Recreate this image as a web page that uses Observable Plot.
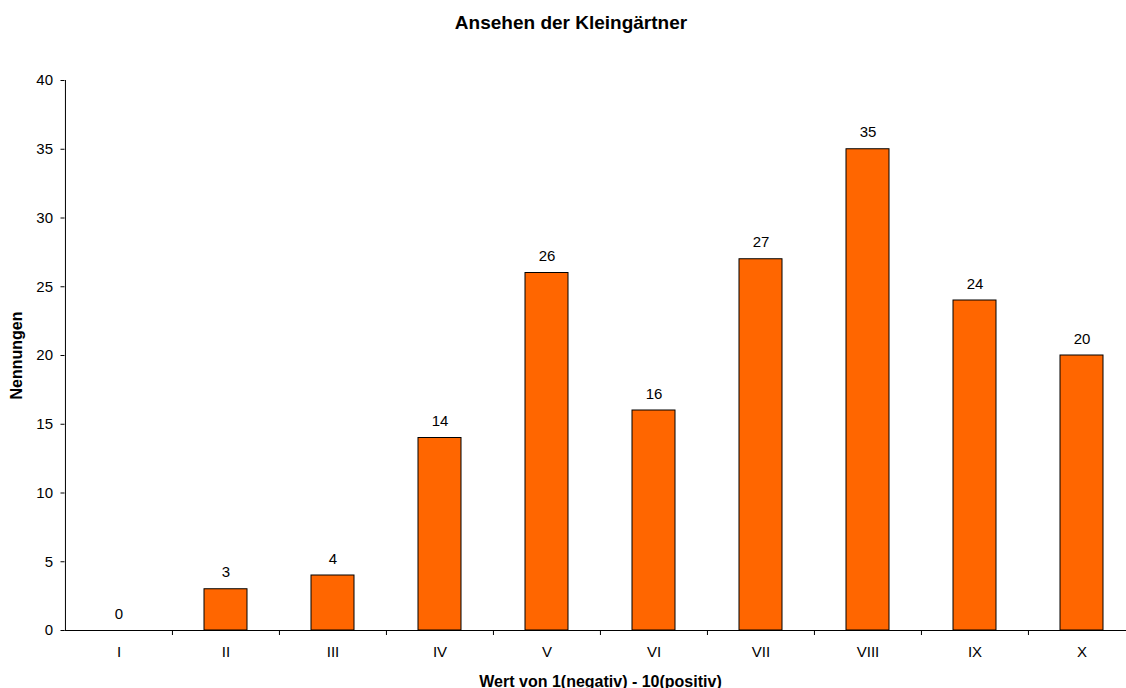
<!DOCTYPE html>
<html>
<head>
<meta charset="utf-8">
<script src="https://cdn.jsdelivr.net/npm/d3@7"></script>
<script src="https://cdn.jsdelivr.net/npm/@observablehq/plot@0.6"></script>
<style>
  html, body { margin: 0; padding: 0; background: #fff; overflow: hidden; }
  #title { width: 1126px; height: 40px; box-sizing: border-box; padding-top: 12px; text-align: center;
    font: bold 19px "Liberation Sans", Arial, sans-serif; line-height: 22px; color: #000; padding-left: 16px; }
  svg { display: block; }
</style>
</head>
<body>
<div id="title">Ansehen der Kleingärtner</div>
<div id="chart"></div>
<script>
const categories = ["I", "II", "III", "IV", "V", "VI", "VII", "VIII", "IX", "X"];
const values = [0, 3, 4, 14, 26, 16, 27, 35, 24, 20];
const yTicks = [0, 5, 10, 15, 20, 25, 30, 35, 40];

const data = categories.map((c, i) => ({cat: c, value: values[i]}));
const xRange = [64.5, 1135.5];
const step = (xRange[1] - xRange[0]) / categories.length;
const font = '"Liberation Sans", Arial, sans-serif';

const chart = Plot.plot({
  width: 1126,
  height: 648,
  marginTop: 40,
  marginBottom: 58,
  marginLeft: 64.5,
  marginRight: -9.5,
  style: {fontFamily: font, fontSize: "15px", color: "#000", background: "#fff", overflow: "hidden"},
  x: {domain: categories, range: xRange, paddingInner: 0.6, paddingOuter: 0.3},
  y: {domain: [0, 40]},
  marks: [
    Plot.barY(data, {x: "cat", y: "value", fill: "#FF6600", stroke: "#000", strokeWidth: 1}),
    Plot.text(data, {x: "cat", y: "value", text: d => String(d.value), dy: -12, lineAnchor: "bottom", fontSize: 15}),
    Plot.axisY({ticks: yTicks, tickSize: 4, tickPadding: 8, fontSize: 15, label: "Nennungen", labelAnchor: "center", labelArrow: "none", labelOffset: 54}),
    Plot.axisX({tickSize: 0, tickPadding: 16, fontSize: 15, label: "Wert von 1(negativ) - 10(positiv)", labelAnchor: "center", labelArrow: "none", labelOffset: 56}),
    Plot.axisX({ticks: categories.slice(1), tickSize: 5, tickFormat: () => "", dx: -step / 2, label: null}),
    Plot.ruleY([0], {stroke: "#000"}),
    Plot.ruleX([categories[0]], {dx: -step / 2, stroke: "#000"})
  ]
});
chart.querySelectorAll("[aria-label='x-axis label'], [aria-label='y-axis label']").forEach(g => {
  g.setAttribute("font-weight", "bold");
  g.setAttribute("font-size", "16px");
});
document.getElementById("chart").appendChild(chart);
</script>
</body>
</html>
